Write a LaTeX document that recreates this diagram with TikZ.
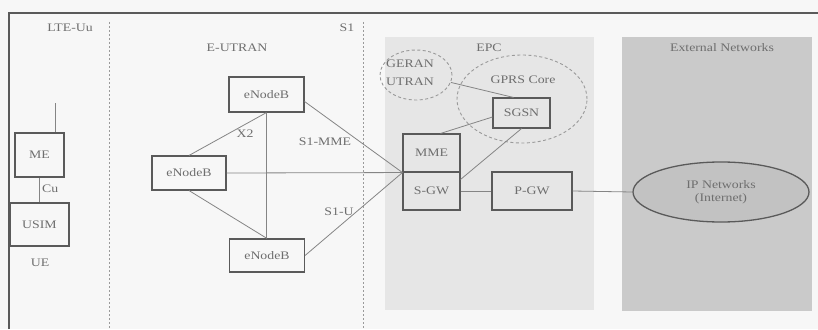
\documentclass[tikz,border=0pt]{standalone}
\usepackage{fontspec}
\setmainfont{Liberation Serif}[FakeStretch=1.2]
\usetikzlibrary{shapes.geometric,calc}
\definecolor{paper}{HTML}{F7F7F7}
\definecolor{epcgray}{HTML}{E6E6E6}
\definecolor{extgray}{HTML}{CACACA}
\definecolor{ipgray}{HTML}{C2C2C2}
\definecolor{txtgray}{HTML}{6E6E6E}
\definecolor{boxline}{HTML}{5A5A5A}
\definecolor{conline}{HTML}{858585}
\definecolor{dashline}{HTML}{9A9A9A}
\tikzset{
  lbl/.style={text=txtgray, inner sep=0pt, font=\fontsize{11.5}{13}\selectfont},
  boxnode/.style={draw=boxline, line width=1.1pt, inner sep=0pt, text=txtgray, font=\fontsize{11.5}{13}\selectfont},
  conn/.style={draw=conline, line width=0.8pt},
  sepline/.style={draw=dashline, line width=0.8pt, dash pattern=on 2pt off 2pt},
  netdomain/.style={draw=dashline, line width=0.9pt, dash pattern=on 3pt off 2.5pt},
}
\begin{document}
\begin{tikzpicture}[x=1pt,y=-1pt]
\useasboundingbox (0,0) rectangle (818,329);
\fill[paper] (0,0) rectangle (818,329);
% regions
\fill[epcgray] (385,37) rectangle (594,310);
\fill[extgray] (622,37) rectangle (812,311);
% frame
\draw[boxline, line width=1.3pt] (9,329) -- (9,13) -- (818,13);
% separators
\coordinate (sepA) at (109,22);
\coordinate (sepB) at (363,22);
\draw[sepline] (sepA) -- (109,329);
\draw[sepline] (sepB) -- (363,329);
% labels
\node[lbl] (lteuu) at (70,28) {LTE-Uu};
\node[lbl] (s1) at (347,28) {S1};
\node[lbl] (eutran) at (237,48) {E-UTRAN};
\node[lbl] (epc) at (489,48) {EPC};
\node[lbl] (extnet) at (722,48) {External Networks};
% domains
\node[netdomain, ellipse, minimum width=72pt, minimum height=50pt, inner sep=0pt] (geran) at (416,75) {};
\node[lbl] (gerantxt) at (410,64) {GERAN};
\node[lbl] (utrantxt) at (410,82) {UTRAN};
\node[netdomain, ellipse, minimum width=130pt, minimum height=88pt, inner sep=0pt] (gprs) at (522,99) {};
\node[lbl] (gprstxt) at (523,80) {GPRS Core};
% UE
\node[boxnode, minimum width=49pt, minimum height=44pt] (me) at (39.5,155) {ME};
\node[boxnode, minimum width=59pt, minimum height=43pt] (usim) at (39.5,224.5) {USIM};
\node[lbl] (ue) at (40,263) {UE};
\coordinate (antenna) at (55,103);
\draw[conn] (antenna) -- (antenna |- me.north);
\draw[conn] (me.south) -- (usim.north);
\node[lbl, anchor=west] (cu) at (42,189) {Cu};
% eNodeBs
\node[boxnode, minimum width=75pt, minimum height=35pt] (enbt) at (266.5,94.5) {eNodeB};
\node[boxnode, minimum width=74pt, minimum height=34pt] (enbl) at (189,173) {eNodeB};
\node[boxnode, minimum width=75pt, minimum height=33pt] (enbb) at (267,255.5) {eNodeB};
% core
\node[boxnode, minimum width=57pt, minimum height=38pt] (mme) at (431.5,153) {MME};
\node[boxnode, minimum width=57pt, minimum height=38pt] (sgw) at (431.5,191) {S-GW};
\node[boxnode, minimum width=57pt, minimum height=30pt] (sgsn) at (521.5,113) {SGSN};
\node[boxnode, minimum width=80pt, minimum height=38pt] (pgw) at (532,191) {P-GW};
\node[ellipse, draw=boxline, line width=1.3pt, fill=ipgray, minimum width=176pt, minimum height=60pt, inner sep=0pt, text=txtgray, font=\fontsize{11.5}{13}\selectfont, align=center] (ip) at (721,192) {IP Networks\\(Internet)};
% E-UTRAN connectors
\draw[conn] (enbt.south) -- (enbt.south |- enbb.north);
\draw[conn] (enbt.south) -- (enbl.north);
\draw[conn] (enbl.south) -- (enbb.north);
\draw[conn] (enbl.east) -- (mme.south west);
\draw[conn] ([yshift=-7pt]enbt.east) -- (mme.south west);
\draw[conn] (enbb.east) -- (mme.south west);
\node[lbl] (x2) at (245,134) {X2};
\node[lbl] (s1mme) at (325,142) {S1-MME};
\node[lbl] (s1u) at (339,212) {S1-U};
% EPC connectors
\draw[conn] ([xshift=-8pt]sgsn.north) -- (geran.-12);
\draw[conn] ([xshift=-20pt]mme.north east) -- ([yshift=-4pt]sgsn.west);
\draw[conn] (sgsn.south) -- ([yshift=-8pt]sgw.north east);
\draw[conn] (sgw.east) -- (pgw.west);
\draw[conn] (pgw.east) -- (ip.west);
\end{tikzpicture}
\end{document}
